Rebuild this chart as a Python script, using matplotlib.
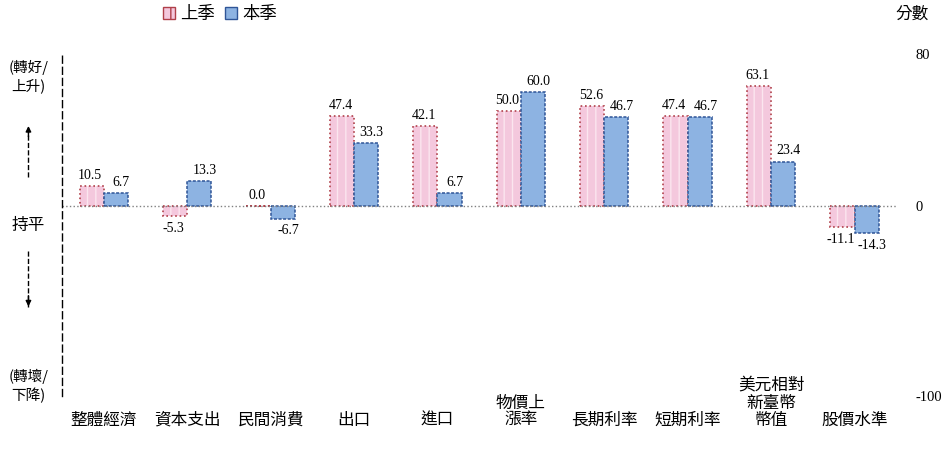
import numpy as np
import matplotlib
matplotlib.use('Agg')
from matplotlib import pyplot as plt
from matplotlib.patches import Patch
import matplotlib.transforms as mtransforms

plt.rcParams['font.family'] = ['Noto Sans CJK TC', 'DejaVu Sans']

# 資料
categories = ['整體經濟', '資本支出', '民間消費', '出口', '進口',
              '物價上\n漲率', '長期利率', '短期利率', '美元相對\n新臺幣\n幣值', '股價水準']
last_q = [10.5, -5.3, 0.0, 47.4, 42.1, 50.0, 52.6, 47.4, 63.1, -11.1]
this_q = [6.7, 13.3, -6.7, 33.3, 6.7, 60.0, 46.7, 46.7, 23.4, -14.3]
right_ticks = [80, 0, -100]

pink = '#F4C8DD'
pink_edge = '#B0404A'
blue = '#8DB3E2'
blue_edge = '#2F5597'

fig = plt.figure(figsize=(9.48, 4.65), dpi=100)
ax = fig.add_axes([0.0654, 0.148, 0.88, 0.736])

x = np.arange(len(categories))
w = 0.29

# 上季: 條紋填色 + 點線邊框
ax.bar(x - w / 2, last_q, w, color=pink, hatch='||', edgecolor='#FBE6EF', linewidth=0)
ax.bar(x - w / 2, last_q, w, fill=False, edgecolor=pink_edge, linestyle=':', linewidth=1.2)
# 本季
ax.bar(x + w / 2, this_q, w, color=blue, edgecolor=blue_edge, linestyle=(0, (2, 1)), linewidth=1.1)

# 數值標籤 (本季標籤略向右偏)
serif = ['Liberation Serif', 'DejaVu Serif']
for xs, vals, dx in [(x - w / 2, last_q, -1), (x + w / 2, this_q, 4)]:
    for xi, v in zip(xs, vals):
        ax.annotate(f'{v:.1f}', (xi, v), xytext=(dx, 3 if v >= 0 else -4),
                    textcoords='offset points', ha='center',
                    va='bottom' if v >= 0 else 'top', fontsize=10, family=serif)

ax.set_xlim(-0.5, len(categories) - 0.5)
ax.set_ylim(-100, 80)
ax.axhline(0, color='#808080', linestyle=':', linewidth=1)

# 右側刻度
ax.yaxis.tick_right()
ax.set_yticks(right_ticks)
ax.set_yticklabels([str(t) for t in right_ticks], family=serif, fontsize=10.5)
ax.tick_params(axis='y', length=0, pad=14)
ax.set_xticks([])
for s in ['top', 'right', 'bottom']:
    ax.spines[s].set_visible(False)
ax.spines['left'].set_linestyle((0, (5, 3)))
ax.spines['left'].set_linewidth(1)

# 類別標籤 (底部對齊)
trans = mtransforms.blended_transform_factory(ax.transData, ax.transAxes)
for xi, c in zip(x, categories):
    ax.text(xi, -0.095, c, transform=trans, ha='center', va='bottom',
            fontsize=12, linespacing=1.0)

# 左側說明
fig.text(0.03, 0.835, '(轉好/\n上升)', ha='center', va='center', fontsize=10.5, linespacing=1.3)
fig.text(0.03, 0.515, '持平', ha='center', va='center', fontsize=12)
fig.text(0.03, 0.17, '(轉壞/\n下降)', ha='center', va='center', fontsize=10.5, linespacing=1.3)
fig.add_artist(plt.Line2D([0.03, 0.03], [0.62, 0.73], color='black', linestyle='--', linewidth=1))
fig.add_artist(plt.Line2D([0.03, 0.03], [0.46, 0.34], color='black', linestyle='--', linewidth=1))
ax.annotate('', xy=(0.03, 0.735), xytext=(0.03, 0.70), xycoords='figure fraction',
            arrowprops=dict(arrowstyle='-|>', color='black', lw=1, mutation_scale=8))
ax.annotate('', xy=(0.03, 0.335), xytext=(0.03, 0.37), xycoords='figure fraction',
            arrowprops=dict(arrowstyle='-|>', color='black', lw=1, mutation_scale=8))

fig.text(0.962, 0.97, '分數', ha='center', va='center', fontsize=12)

handles = [Patch(facecolor=pink, edgecolor=pink_edge, hatch='||', label='上季'),
           Patch(facecolor=blue, edgecolor=blue_edge, label='本季')]
fig.legend(handles=handles, loc='center', bbox_to_anchor=(0.232, 0.97), ncol=2,
           frameon=False, fontsize=12.5, handlelength=0.7, handleheight=0.7,
           handletextpad=0.3, columnspacing=0.6)

fig.savefig('out.png', dpi=100)
